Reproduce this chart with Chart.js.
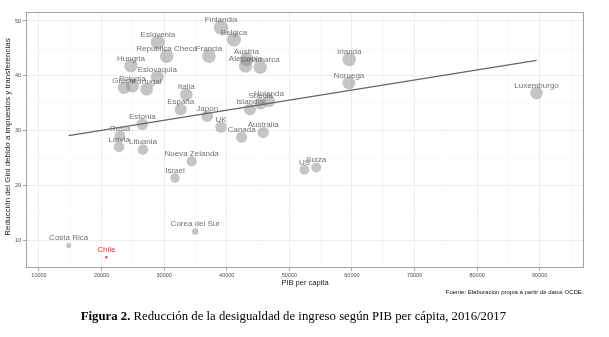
<!DOCTYPE html>
<html>
<head>
<meta charset="utf-8">
<script src="https://cdn.jsdelivr.net/npm/chart.js@4"></script>
<style>
html,body{margin:0;padding:0;background:#fff;}
#wrap{width:609px;height:337px;position:relative;}
</style>
</head>
<body>
<div id="wrap"><canvas id="c" width="609" height="337"></canvas></div>
<script>
// ---- data ----
const countries = ["Finlandia","Belgica","Eslovenia","Republica Checa","Francia","Austria","Alemania","Dinamarca","Hungria","Eslovaquia","Grecia","Polonia","Portugal","Italia","España","Japon","UK","Canada","Australia","Islandia","Suecia","Holanda","Estonia","Rusia","Latvia","Lituania","Nueva Zelanda","Israel","Corea del Sur","Costa Rica","Chile","US","Suiza","Irlanda","Noruega","Luxemburgo"];
const gdpPerCapita = [39070,41150,29000,30400,37150,43150,43000,45350,24700,28900,23580,24900,27200,33530,32640,36880,39070,42380,45830,43700,45410,46740,26500,22940,22780,26610,34390,31730,34970,14740,20750,52410,54300,59570,59520,89500];
const giniReduction = [48.8,46.6,46.1,43.6,43.6,43.0,41.8,41.55,41.85,39.8,37.85,38.1,37.55,36.6,33.85,32.65,30.65,28.8,29.65,33.85,34.95,35.4,31.15,29.0,27.05,26.55,24.4,21.35,11.6,9.07,6.93,22.85,23.27,43.0,38.7,36.86];
const highlight = "Chile";
const trendX = [14740, 89500];
const trendY = [29.1, 42.8];
const xTicksMajor = [10000,20000,30000,40000,50000,60000,70000,80000,90000];
const xTicksMinor = [15000,25000,35000,45000,55000,65000,75000,85000,95000];
const yTicksMajor = [10,20,30,40,50];
const yTicksMinor = [15,25,35,45];
const xTitle = "PIB per capita";
const yTitle = "Reducción del Gini debido a impuestos y transferencias";
const sourceText = "Fuente: Elaboración propia a partir de datos OCDE.";
const captionBold = "Figura 2.";
const captionText = " Reducción de la desigualdad de ingreso según PIB per cápita, 2016/2017";

// ---- styling helpers ----
const vMin = Math.min(...giniReduction), vMax = Math.max(...giniReduction);
function radiusFor(v){ const s = 1 + 5*Math.sqrt((v - vMin)/(vMax - vMin)); return 1.2*s; }
const SANS = '"Liberation Sans", Arial, sans-serif';

const points = countries.map((c,i)=>({x: gdpPerCapita[i], y: giniReduction[i]}));
const trend = trendX.map((x,i)=>({x, y: trendY[i]}));

const labelPlugin = {
  id: 'pointLabels',
  afterDatasetsDraw(chart){
    const ctx = chart.ctx;
    const meta = chart.getDatasetMeta(1);
    ctx.save();
    ctx.font = '8px ' + SANS;
    ctx.textAlign = 'center';
    ctx.textBaseline = 'middle';
    meta.data.forEach((pt,i)=>{
      ctx.fillStyle = countries[i] === highlight ? '#ff2a2a' : '#737373';
      ctx.fillText(countries[i], pt.x, pt.y - 7.3);
    });
    ctx.restore();
  }
};

const framePlugin = {
  id: 'frameAndText',
  afterDraw(chart){
    const ctx = chart.ctx;
    const a = chart.chartArea;
    ctx.save();
    ctx.strokeStyle = '#a3a3a3';
    ctx.lineWidth = 1;
    ctx.strokeRect(Math.round(a.left)+0.5, Math.round(a.top)+0.5, Math.round(a.right-a.left)-1, Math.round(a.bottom-a.top)-1);
    // axis titles
    ctx.fillStyle = '#1a1a1a';
    ctx.font = '7.5px ' + SANS;
    ctx.textAlign = 'center';
    ctx.textBaseline = 'middle';
    ctx.fillText(xTitle, (a.left + a.right)/2, 282.7);
    ctx.save();
    ctx.font = '8px ' + SANS;
    ctx.translate(8, (a.top + a.bottom)/2 - 3);
    ctx.rotate(-Math.PI/2);
    ctx.fillText(yTitle, 0, 0);
    ctx.restore();
    // source
    ctx.font = '6px ' + SANS;
    ctx.textAlign = 'right';
    ctx.fillStyle = '#111';
    ctx.fillText(sourceText, a.right - 0.5, 292.7);
    // caption
    const base = 12;
    ctx.font = 'bold ' + base + 'px "Liberation Serif", serif';
    const w1 = ctx.measureText(captionBold).width;
    ctx.font = base + 'px "Liberation Serif", serif';
    const w2 = ctx.measureText(captionText).width;
    const size = base * 426 / (w1 + w2);
    let x0 = 80.7;
    ctx.textAlign = 'left';
    ctx.fillStyle = '#000';
    ctx.font = 'bold ' + size + 'px "Liberation Serif", serif';
    ctx.fillText(captionBold, x0, 316.5);
    x0 += ctx.measureText(captionBold).width;
    ctx.font = size + 'px "Liberation Serif", serif';
    ctx.fillText(captionText, x0, 316.5);
    ctx.restore();
  }
};

function majorX(v){ return xTicksMajor.includes(v); }
function majorY(v){ return yTicksMajor.includes(v); }

new Chart(document.getElementById('c'), {
  type: 'scatter',
  data: {
    datasets: [
      {
        type: 'line',
        data: trend,
        borderColor: '#666666',
        borderWidth: 1.3,
        pointRadius: 0,
        fill: false,
        order: 1
      },
      {
        data: points,
        backgroundColor: countries.map(c => c === highlight ? 'rgba(255,40,40,0.9)' : 'rgba(140,140,140,0.5)'),
        borderWidth: 0,
        pointRadius: giniReduction.map((v,i) => countries[i] === highlight ? 1.2 : radiusFor(v)),
        order: 2
      }
    ]
  },
  options: {
    responsive: false,
    animation: false,
    devicePixelRatio: 1,
    layout: { padding: { left: 0, top: 12, right: 25, bottom: 57 } },
    plugins: { legend: { display: false }, tooltip: { enabled: false } },
    scales: {
      x: {
        type: 'linear',
        min: 7923, max: 97077,
        afterBuildTicks(s){ s.ticks = xTicksMajor.concat(xTicksMinor).sort((a,b)=>a-b).map(v=>({value:v})); },
        afterFit(s){ s.height = 12; },
        border: { display: false },
        ticks: {
          autoSkip: false, maxRotation: 0, minRotation: 0,
          font: { size: 5.5, family: SANS }, color: '#4d4d4d', padding: 1,
          callback: (v) => majorX(v) ? String(v) : ''
        },
        grid: {
          color: c => majorX(c.tick.value) ? '#ebebeb' : '#f5f5f5',
          lineWidth: c => majorX(c.tick.value) ? 0.9 : 0.6,
          tickColor: c => majorX(c.tick.value) ? '#999999' : 'rgba(0,0,0,0)',
          tickLength: 3
        }
      },
      y: {
        type: 'linear',
        min: 4.95, max: 51.64,
        afterBuildTicks(s){ s.ticks = yTicksMajor.concat(yTicksMinor).sort((a,b)=>a-b).map(v=>({value:v})); },
        afterFit(s){ s.width = 26; },
        border: { display: false },
        ticks: {
          autoSkip: false,
          font: { size: 5.5, family: SANS }, color: '#4d4d4d', padding: 2,
          callback: (v) => majorY(v) ? String(v) : ''
        },
        grid: {
          color: c => majorY(c.tick.value) ? '#ebebeb' : '#f5f5f5',
          lineWidth: c => majorY(c.tick.value) ? 0.9 : 0.6,
          tickColor: c => majorY(c.tick.value) ? '#999999' : 'rgba(0,0,0,0)',
          tickLength: 3
        }
      }
    }
  },
  plugins: [labelPlugin, framePlugin]
});
</script>
</body>
</html>
